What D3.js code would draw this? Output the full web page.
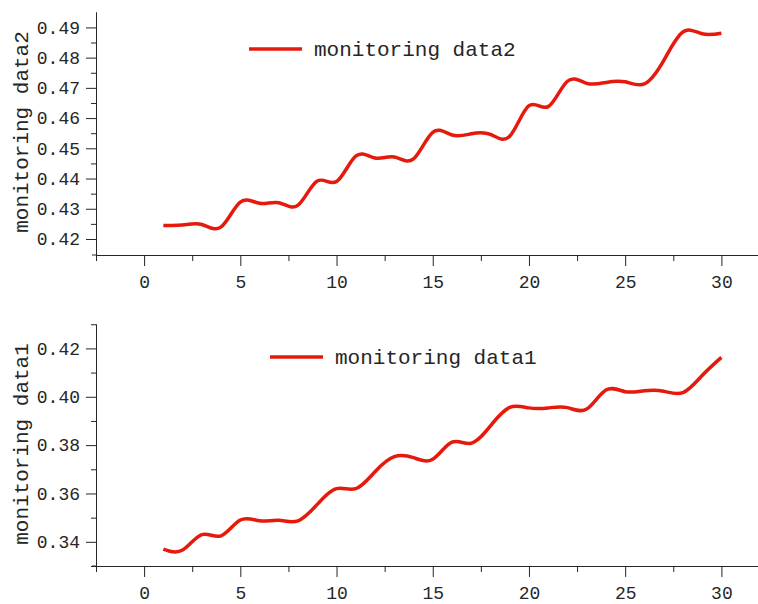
<!DOCTYPE html>
<html>
<head>
<meta charset="utf-8">
<script src="https://cdn.jsdelivr.net/npm/d3@7"></script>
<style>
  body { margin: 0; background: #fff; }
  svg { display: block; }
  text { font-family: "Liberation Mono", "DejaVu Sans Mono", monospace; fill: #262626; }
  .axis path, .axis line { stroke: #262626; stroke-width: 1; }
</style>
</head>
<body>
<div id="chart"></div>
<script>
// --- datos ---
const days = [1, 2, 3, 4, 5, 6, 7, 8, 9, 10, 11, 12, 13, 14, 15, 16, 17, 18, 19, 20, 21, 22, 23, 24, 25, 26, 27, 28, 29, 30];
const data2 = [0.4245, 0.4246, 0.4248, 0.4240, 0.4322, 0.4318, 0.4320, 0.4312, 0.4392, 0.4390,
               0.4474, 0.4468, 0.4471, 0.4465, 0.4553, 0.4544, 0.4548, 0.4546, 0.4540, 0.4641,
               0.4638, 0.4722, 0.4715, 0.4718, 0.4720, 0.4713, 0.4790, 0.4885, 0.4879, 0.4881];
const data1 = [0.3370, 0.3366, 0.3430, 0.3425, 0.3490, 0.3487, 0.3489, 0.3487, 0.3555, 0.3620,
               0.3620, 0.3690, 0.3752, 0.3748, 0.3742, 0.3812, 0.3808, 0.3880, 0.3956, 0.3954,
               0.3954, 0.3955, 0.3949, 0.4028, 0.4021, 0.4025, 0.4023, 0.4017, 0.4088, 0.4163];
const xTicks = [0, 5, 10, 15, 20, 25, 30];
const xMinor = [-2.5, 2.5, 7.5, 12.5, 17.5, 22.5, 27.5, 32.5];
const yTicks2 = [0.42, 0.43, 0.44, 0.45, 0.46, 0.47, 0.48, 0.49];
const yMinor2 = [0.425, 0.435, 0.445, 0.455, 0.465, 0.475, 0.485];
const yTicks1 = [0.34, 0.36, 0.38, 0.40, 0.42];
const yMinor1 = [0.33, 0.35, 0.37, 0.39, 0.41, 0.43];

const W = 758, H = 604;
const RED = "#e61a0c";

const svg = d3.select("#chart").append("svg")
  .attr("width", W)
  .attr("height", H);

const x = d3.scaleLinear().domain([-2.5, 32.5]).range([96, 769.5]);

// dibuja un panel completo
function panel(cfg) {
  const y = d3.scaleLinear().domain(cfg.yDomain).range([cfg.bottom, cfg.top]);
  const g = svg.append("g");

  // eje y: menores y mayores
  g.append("g").attr("class", "axis")
    .attr("transform", "translate(96,0)")
    .call(d3.axisLeft(y).tickValues(cfg.yMinor).tickSize(5).tickSizeOuter(0).tickFormat(""));
  g.append("g").attr("class", "axis")
    .attr("transform", "translate(96,0)")
    .call(d3.axisLeft(y).tickValues(cfg.yTicks).tickSize(10).tickPadding(6).tickSizeOuter(0).tickFormat(d3.format(".2f")))
    .selectAll("text").style("font-size", "18px");

  // eje x
  g.append("g").attr("class", "axis")
    .attr("transform", `translate(0,${cfg.bottom})`)
    .call(d3.axisBottom(x).tickValues(xMinor).tickSize(6).tickSizeOuter(0).tickFormat(""));
  g.append("g").attr("class", "axis")
    .attr("transform", `translate(0,${cfg.bottom})`)
    .call(d3.axisBottom(x).tickValues(xTicks).tickSize(11).tickPadding(9).tickSizeOuter(0))
    .selectAll("text").style("font-size", "18px");
  g.append("line")
    .attr("x1", 92).attr("x2", 96)
    .attr("y1", cfg.bottom).attr("y2", cfg.bottom)
    .attr("stroke", "#262626");

  // titulo eje y
  g.append("text")
    .attr("transform", `translate(21,${cfg.titleY}) rotate(-90)`)
    .attr("text-anchor", "middle")
    .attr("dy", "0.35em")
    .style("font-size", "21px")
    .text(cfg.label);

  // curva
  const line = d3.line()
    .x((d, i) => x(days[i]))
    .y(d => y(d))
    .curve(d3.curveNatural);
  g.append("path")
    .datum(cfg.values)
    .attr("fill", "none")
    .attr("stroke", RED)
    .attr("stroke-width", 3.5)
    .attr("stroke-linejoin", "round")
    .attr("d", line);

  // leyenda
  g.append("line")
    .attr("x1", cfg.legendX).attr("x2", cfg.legendX + 53)
    .attr("y1", cfg.legendY).attr("y2", cfg.legendY)
    .attr("stroke", RED).attr("stroke-width", 3.5);
  g.append("text")
    .attr("x", cfg.legendX + 65)
    .attr("y", cfg.legendY)
    .attr("dy", "0.35em")
    .style("font-size", "21px")
    .text(cfg.label);
}

panel({
  values: data2, label: "monitoring data2",
  yDomain: [0.4147, 0.4951], top: 12, bottom: 255,
  yTicks: yTicks2, yMinor: yMinor2,
  titleY: 132, legendX: 249, legendY: 49
});

panel({
  values: data1, label: "monitoring data1",
  yDomain: [0.33, 0.4301], top: 324, bottom: 566,
  yTicks: yTicks1, yMinor: yMinor1,
  titleY: 444, legendX: 270, legendY: 357
});
</script>
</body>
</html>
